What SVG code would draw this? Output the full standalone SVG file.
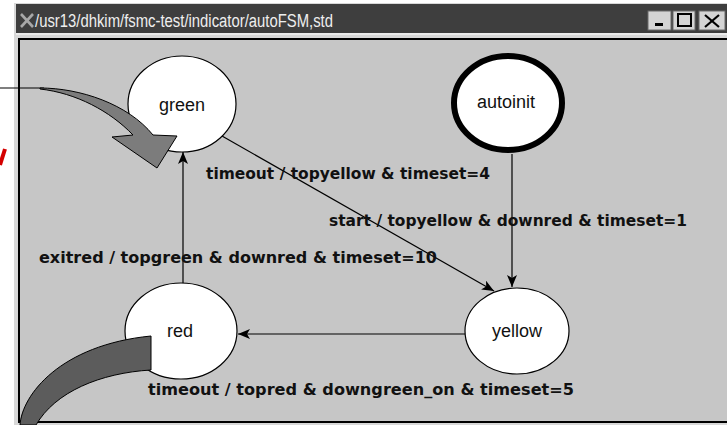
<svg xmlns="http://www.w3.org/2000/svg" width="727" height="425" viewBox="0 0 727 425">
  <defs>
    <marker id="arrow" viewBox="0 0 12 10" refX="12" refY="5" markerWidth="12" markerHeight="10" markerUnits="userSpaceOnUse" orient="auto">
      <path d="M0,0 L12,5 L0,10 L3,5 z" fill="#000"/>
    </marker>
  </defs>
  <style>
    .state { fill: #ffffff; stroke: #000; stroke-width: 1.2; }
    .initial { fill: #ffffff; stroke: #000; stroke-width: 6; }
    .name { font-family: "Liberation Sans", Arial, sans-serif; font-size: 18px; fill: #111; text-anchor: middle; }
    .edge { fill: none; stroke: #000; stroke-width: 1.2; marker-end: url(#arrow); }
    .label { font-family: "DejaVu Sans", "Liberation Sans", sans-serif; font-weight: bold; font-size: 15.5px; fill: #111; }
    .btn { fill: #d4d4d4; stroke: #6a6a6a; stroke-width: 1; }
  </style>

  <!-- page background -->
  <rect x="0" y="0" width="727" height="425" fill="#ffffff"/>

  <!-- window frame and title bar -->
  <rect x="14" y="3" width="713" height="422" fill="#d8d8d8"/>
  <rect x="16" y="4" width="711" height="29" fill="#3e3e3e"/>
  <line x1="16" y1="34" x2="727" y2="34" stroke="#f2f2f2" stroke-width="1.5"/>
  <!-- X logo -->
  <g stroke="#a8a8a8" stroke-width="2.6" stroke-linecap="butt">
    <line x1="21" y1="14" x2="33" y2="27"/>
    <line x1="33" y1="14" x2="21" y2="27"/>
  </g>
  <text x="35" y="27" font-family="'Liberation Sans', Arial, sans-serif" font-size="18" fill="#eeeeee" textLength="298" lengthAdjust="spacingAndGlyphs">/usr13/dhkim/fsmc-test/indicator/autoFSM,std</text>
  <!-- title bar buttons -->
  <g>
    <rect class="btn" x="648" y="11" width="23" height="19"/>
    <rect x="655" y="23" width="8" height="3" fill="#000"/>
    <rect class="btn" x="673" y="11" width="22" height="19"/>
    <rect x="678" y="14" width="13" height="12" fill="none" stroke="#000" stroke-width="2"/>
    <rect class="btn" x="699" y="11" width="26" height="19"/>
    <g stroke="#000" stroke-width="2.2">
      <line x1="705" y1="15" x2="719" y2="27"/>
      <line x1="719" y1="15" x2="705" y2="27"/>
    </g>
  </g>

  <!-- drawing canvas -->
  <rect x="19" y="39" width="710" height="383" fill="#c6c6c6" stroke="#000" stroke-width="2"/>

  <!-- connectors -->
  <g id="connectors">
    <line class="edge" x1="183" y1="283" x2="183" y2="152"/>
    <line class="edge" x1="222" y1="136" x2="494" y2="291"/>
    <line class="edge" x1="512" y1="154" x2="512" y2="287"/>
    <line class="edge" x1="465" y1="334" x2="238" y2="334"/>
  </g>

  <!-- transition labels -->
  <g id="labels">
    <text class="label" x="206" y="179" textLength="284" lengthAdjust="spacingAndGlyphs">timeout / topyellow &amp; timeset=4</text>
    <text class="label" x="329" y="226" textLength="358" lengthAdjust="spacingAndGlyphs">start / topyellow &amp; downred &amp; timeset=1</text>
    <text class="label" x="39" y="263" textLength="398" lengthAdjust="spacingAndGlyphs">exitred / topgreen &amp; downred &amp; timeset=10</text>
    <text class="label" x="148" y="395" textLength="426" lengthAdjust="spacingAndGlyphs">timeout / topred &amp; downgreen_on &amp; timeset=5</text>
  </g>

  <!-- states -->
  <g id="green">
    <ellipse class="state" cx="182" cy="104" rx="54" ry="48"/>
    <text class="name" x="182" y="111">green</text>
  </g>
  <g id="autoinit">
    <ellipse class="initial" cx="508" cy="103" rx="54" ry="47"/>
    <text class="name" x="506" y="108">autoinit</text>
  </g>
  <g id="red">
    <ellipse class="state" cx="181" cy="331" rx="56" ry="48"/>
    <text class="name" x="180" y="337">red</text>
  </g>
  <g id="yellow">
    <ellipse class="state" cx="517" cy="331" rx="52" ry="43"/>
    <text class="name" x="517" y="337">yellow</text>
  </g>

  <!-- overlay: curved arrow into green -->
  <line x1="0" y1="88" x2="44" y2="88" stroke="#000" stroke-width="1.2"/>
  <path d="M40,88 C80,88 128,104 153,135 L177,136 L157,168 L112,137 L133,135 C110,111 76,93 40,89 Z" fill="#7c7c7c" stroke="#000" stroke-width="1"/>

  <!-- overlay: curved band into red -->
  <path d="M20,425 C22,395 60,345 151,336 L151,370 C100,373 55,392 36,425 Z" fill="#5c5c5c" stroke="#000" stroke-width="1"/>

  <!-- red pen mark at the left edge -->
  <line x1="5" y1="149" x2="0" y2="165" stroke="#d40000" stroke-width="4"/>
</svg>
